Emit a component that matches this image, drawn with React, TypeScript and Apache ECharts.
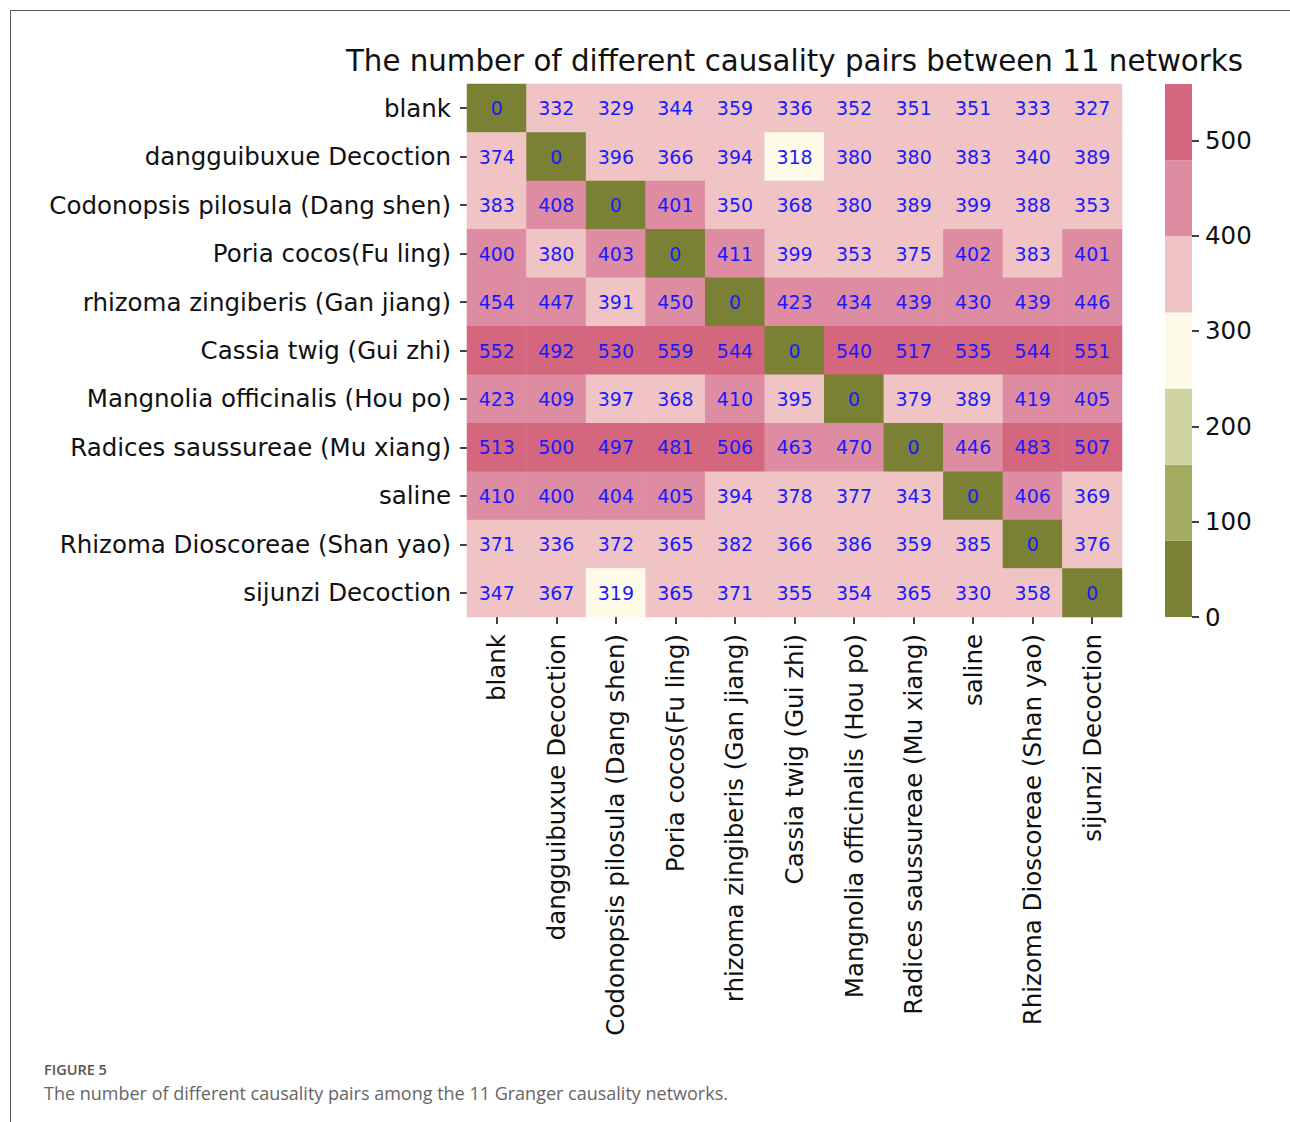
import React, { useEffect, useRef } from "react";
import * as echarts from "echarts";

// Network names (row order top → bottom, column order left → right)
const networks = [
  "blank",
  "dangguibuxue Decoction",
  "Codonopsis pilosula (Dang shen)",
  "Poria cocos(Fu ling)",
  "rhizoma zingiberis (Gan jiang)",
  "Cassia twig (Gui zhi)",
  "Mangnolia officinalis (Hou po)",
  "Radices saussureae (Mu xiang)",
  "saline",
  "Rhizoma Dioscoreae (Shan yao)",
  "sijunzi Decoction",
];

// Number of differing causality pairs, one array per row network
const rowBlank = [0, 332, 329, 344, 359, 336, 352, 351, 351, 333, 327];
const rowDangguibuxue = [374, 0, 396, 366, 394, 318, 380, 380, 383, 340, 389];
const rowCodonopsis = [383, 408, 0, 401, 350, 368, 380, 389, 399, 388, 353];
const rowPoria = [400, 380, 403, 0, 411, 399, 353, 375, 402, 383, 401];
const rowRhizomaZingiberis = [454, 447, 391, 450, 0, 423, 434, 439, 430, 439, 446];
const rowCassia = [552, 492, 530, 559, 544, 0, 540, 517, 535, 544, 551];
const rowMangnolia = [423, 409, 397, 368, 410, 395, 0, 379, 389, 419, 405];
const rowRadices = [513, 500, 497, 481, 506, 463, 470, 0, 446, 483, 507];
const rowSaline = [410, 400, 404, 405, 394, 378, 377, 343, 0, 406, 369];
const rowDioscoreae = [371, 336, 372, 365, 382, 366, 386, 359, 385, 0, 376];
const rowSijunzi = [347, 367, 319, 365, 371, 355, 354, 365, 330, 358, 0];

const matrixRows = [
  rowBlank,
  rowDangguibuxue,
  rowCodonopsis,
  rowPoria,
  rowRhizomaZingiberis,
  rowCassia,
  rowMangnolia,
  rowRadices,
  rowSaline,
  rowDioscoreae,
  rowSijunzi,
];

// Discrete colour scale: 7 equal bins between 0 and 559
const binEdges = [0, 79.86, 159.71, 239.57, 319.43, 399.29, 479.14, 559];
const binColors = [
  "#7a8034",
  "#a3ab60",
  "#d0d4a3",
  "#fdfbe7",
  "#f0c4c4",
  "#de8ca1",
  "#d4667e",
];
const colorbarTicks = [0, 100, 200, 300, 400, 500];

const FONT = "DejaVu Sans";
const TICK_FONT = 24.5;

export default function App() {
  const ref = useRef<HTMLDivElement>(null);

  useEffect(() => {
    if (!ref.current) return;
    const chart = echarts.init(ref.current, null, { renderer: "svg" });

    const cells: number[][] = [];
    matrixRows.forEach((row, r) => {
      row.forEach((v, c) => cells.push([c, r, v]));
    });

    const pieces = binColors.map((color, i) => ({
      gte: binEdges[i],
      lt: i === binColors.length - 1 ? binEdges[i + 1] + 1 : binEdges[i + 1],
      color,
    }));

    const colorbarSeries = binColors.map((color, i) => ({
      type: "bar",
      stack: "cbar",
      xAxisIndex: 1,
      yAxisIndex: 1,
      barWidth: "100%",
      silent: true,
      itemStyle: { color },
      data: [binEdges[i + 1] - binEdges[i]],
    }));

    const gridLeft = 467;
    const gridTop = 84;
    const gridW = 655;
    const gridH = 533;

    const tickStyle = {
      show: true,
      alignWithLabel: true,
      length: 7,
      lineStyle: { color: "#000", width: 1.5 },
    };

    chart.setOption({
      animation: false,
      backgroundColor: "#ffffff",
      textStyle: { fontFamily: FONT },
      grid: [
        { left: gridLeft, top: gridTop, width: gridW, height: gridH },
        { left: 1165, top: gridTop, width: 27, height: gridH },
      ],
      xAxis: [
        {
          type: "category",
          gridIndex: 0,
          data: networks,
          position: "bottom",
          axisLine: { show: false },
          axisTick: tickStyle,
          axisLabel: {
            rotate: 90,
            interval: 0,
            margin: 17,
            fontSize: TICK_FONT,
            fontFamily: FONT,
            color: "#111",
          },
          splitLine: { show: false },
        },
        {
          type: "category",
          gridIndex: 1,
          data: [""],
          show: false,
        },
      ],
      yAxis: [
        {
          type: "category",
          gridIndex: 0,
          data: networks,
          inverse: true,
          axisLine: { show: false },
          axisTick: tickStyle,
          axisLabel: {
            interval: 0,
            margin: 16,
            fontSize: TICK_FONT,
            fontFamily: FONT,
            color: "#111",
          },
          splitLine: { show: false },
        },
        {
          type: "value",
          gridIndex: 1,
          position: "right",
          min: 0,
          max: 559,
          interval: 100,
          axisLine: { show: false },
          splitLine: { show: false },
          axisTick: {
            show: true,
            length: 7,
            customValues: colorbarTicks,
            lineStyle: { color: "#000", width: 1.5 },
          },
          axisLabel: {
            margin: 13,
            fontSize: TICK_FONT,
            fontFamily: FONT,
            color: "#111",
            customValues: colorbarTicks,
          },
        },
      ],
      visualMap: {
        type: "piecewise",
        show: false,
        seriesIndex: 0,
        dimension: 2,
        pieces,
      },
      series: [
        {
          type: "heatmap",
          xAxisIndex: 0,
          yAxisIndex: 0,
          data: cells,
          label: {
            show: true,
            color: "#1a1aff",
            fontSize: 19,
            fontFamily: FONT,
          },
          itemStyle: { borderWidth: 0 },
          emphasis: { disabled: true },
        },
        ...colorbarSeries,
      ],
      graphic: [
        {
          type: "line",
          shape: { x1: 10.5, y1: 10.5, x2: 1290, y2: 10.5 },
          style: { stroke: "#555", lineWidth: 1 },
        },
        {
          type: "line",
          shape: { x1: 10.5, y1: 10.5, x2: 10.5, y2: 1122 },
          style: { stroke: "#555", lineWidth: 1 },
        },
        {
          type: "text",
          x: gridLeft + gridW / 2,
          y: 61,
          style: {
            text: "The number of different causality pairs between 11 networks",
            fontFamily: FONT,
            fontSize: 29.3,
            fill: "#111",
            align: "center",
            verticalAlign: "middle",
          },
        },
        {
          type: "text",
          x: 44,
          y: 1069,
          style: {
            text: "FIGURE 5",
            fontFamily: "Open Sans",
            fontSize: 14.5,
            fontWeight: 600,
            fill: "#555",
            verticalAlign: "middle",
          },
        },
        {
          type: "text",
          x: 44,
          y: 1093,
          style: {
            text: "The number of different causality pairs among the 11 Granger causality networks.",
            fontFamily: "Open Sans",
            fontSize: 18,
            fill: "#666",
            verticalAlign: "middle",
          },
        },
      ],
    });

    return () => chart.dispose();
  }, []);

  return (
    <div
      ref={ref}
      style={{ position: "absolute", left: 0, top: 0, width: 1290, height: 1122 }}
    />
  );
}
